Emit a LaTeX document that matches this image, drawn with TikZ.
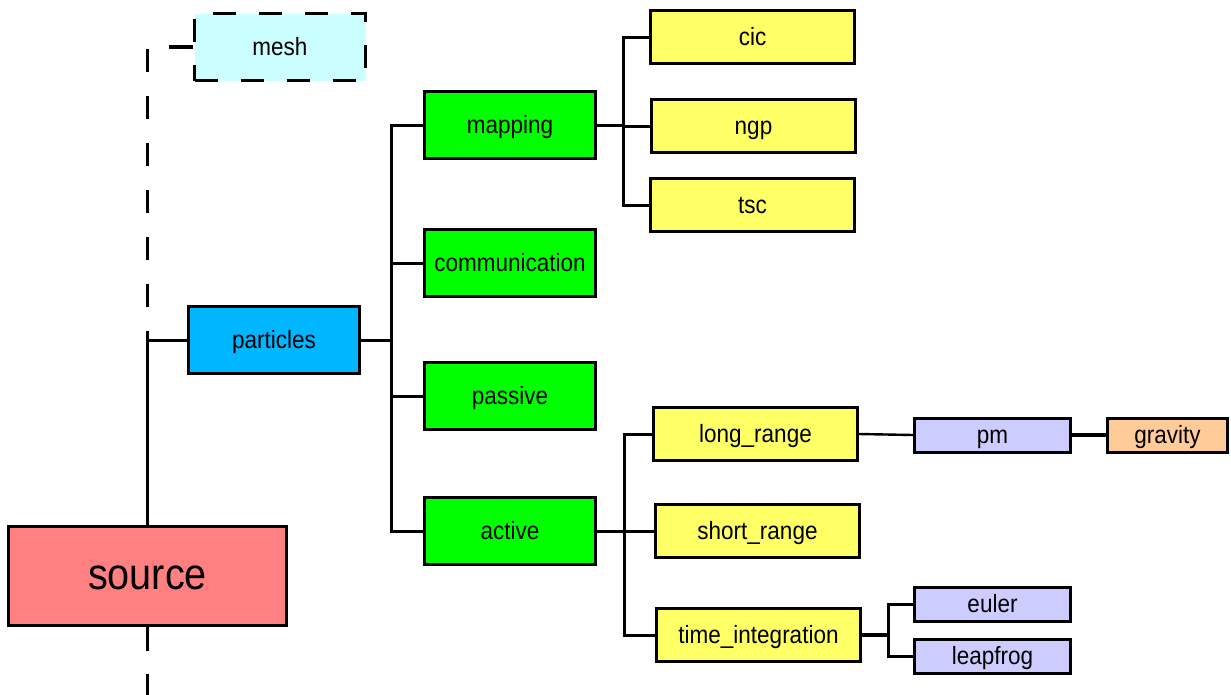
\documentclass[tikz,border=0pt]{standalone}
\usepackage{fontspec}
\setmainfont{Liberation Sans}[FakeStretch=0.9]
\definecolor{cmesh}{HTML}{CCFFFF}
\definecolor{csource}{HTML}{FF8080}
\definecolor{cpart}{HTML}{00B7FF}
\definecolor{cgreen}{HTML}{00FF00}
\definecolor{cyellow}{HTML}{FFFF66}
\definecolor{clav}{HTML}{CCCCFF}
\definecolor{cpeach}{HTML}{FFCC99}
\tikzset{
  box/.style={draw=black, line width=3pt, rectangle, inner sep=0pt,
    text height=18pt, text depth=2pt,
    font=\fontsize{25}{30}\selectfont},
  bigbox/.style={box, minimum width=278pt, minimum height=99pt,
    text height=32pt, text depth=6pt,
    font=\fontsize{44}{50}\selectfont},
  midbox/.style={box, minimum width=171pt, minimum height=67pt},
  ybox/.style={box, fill=cyellow, minimum width=204pt, minimum height=53pt},
  lbox/.style={box, fill=clav, minimum width=156pt, minimum height=34pt},
  conn/.style={line width=3pt},
  dconn/.style={line width=3.2pt, dash pattern=on 23.5pt off 23.5pt},
}
\begin{document}
\begin{tikzpicture}[x=1pt,y=-1pt]
\useasboundingbox[fill=white] (0,0) rectangle (1231,694);
% nodes
\node[bigbox, fill=csource] (source) at (147.5,576) {source};
\node[midbox, fill=cmesh, line width=3.4pt, dash pattern=on 23pt off 23pt] (mesh) at (280,47) {mesh};
\node[midbox, fill=cpart] (particles) at (274,340) {particles};
\node[midbox, fill=cgreen] (mapping) at (510,125) {mapping};
\node[midbox, fill=cgreen] (communication) at (510,263) {communication};
\node[midbox, fill=cgreen] (passive) at (510,396) {passive};
\node[midbox, fill=cgreen] (active) at (510,531) {active};
\node[ybox] (cic) at (752.5,37) {cic};
\node[ybox] (ngp) at (753.5,126) {ngp};
\node[ybox] (tsc) at (752.5,205) {tsc};
\node[ybox] (longrange) at (755.5,434) {long\_range};
\node[ybox] (shortrange) at (757.5,531) {short\_range};
\node[ybox] (timeint) at (758.5,635) {time\_integration};
\node[lbox] (pm) at (992.5,435) {pm};
\node[box, fill=cpeach, minimum width=120pt, minimum height=34pt] (gravity) at (1167.5,435) {gravity};
\node[lbox] (euler) at (992.5,604) {euler};
\node[lbox] (leapfrog) at (992.5,656) {leapfrog};
% helper coordinates
\coordinate (pbus) at (391,340);
\coordinate (mbus) at (623,125);
\coordinate (abus) at (624,531);
\coordinate (tbus) at (888,635);
\coordinate (below) at (147.5,760);
% connectors
\draw[dconn] (mesh.west) -| (source.north);
\draw[dconn] (source.south) -- (below);
\draw[conn] (source.north) |- (particles.west);
\draw[conn] (particles.east) -- (pbus);
\draw[conn] (pbus) |- (mapping.west);
\draw[conn] (pbus) |- (communication.west);
\draw[conn] (pbus) |- (passive.west);
\draw[conn] (pbus) |- (active.west);
\draw[conn] (mapping.east) -- (mbus);
\draw[conn] (mbus) |- (cic.west);
\draw[conn] (mbus) |- (ngp.west);
\draw[conn] (mbus) |- (tsc.west);
\draw[conn] (active.east) -- (abus);
\draw[conn] (abus) |- (longrange.west);
\draw[conn] (abus) |- (shortrange.west);
\draw[conn] (abus) |- (timeint.west);
\draw[conn, line width=2.4pt] (longrange.east) -- (pm.west);
\draw[conn, line width=4pt] (pm.east) -- (gravity.west);
\draw[conn, line width=3.6pt] (timeint.east) -- (tbus);
\draw[conn] (tbus) |- (euler.west);
\draw[conn] (tbus) |- (leapfrog.west);
\end{tikzpicture}
\end{document}
